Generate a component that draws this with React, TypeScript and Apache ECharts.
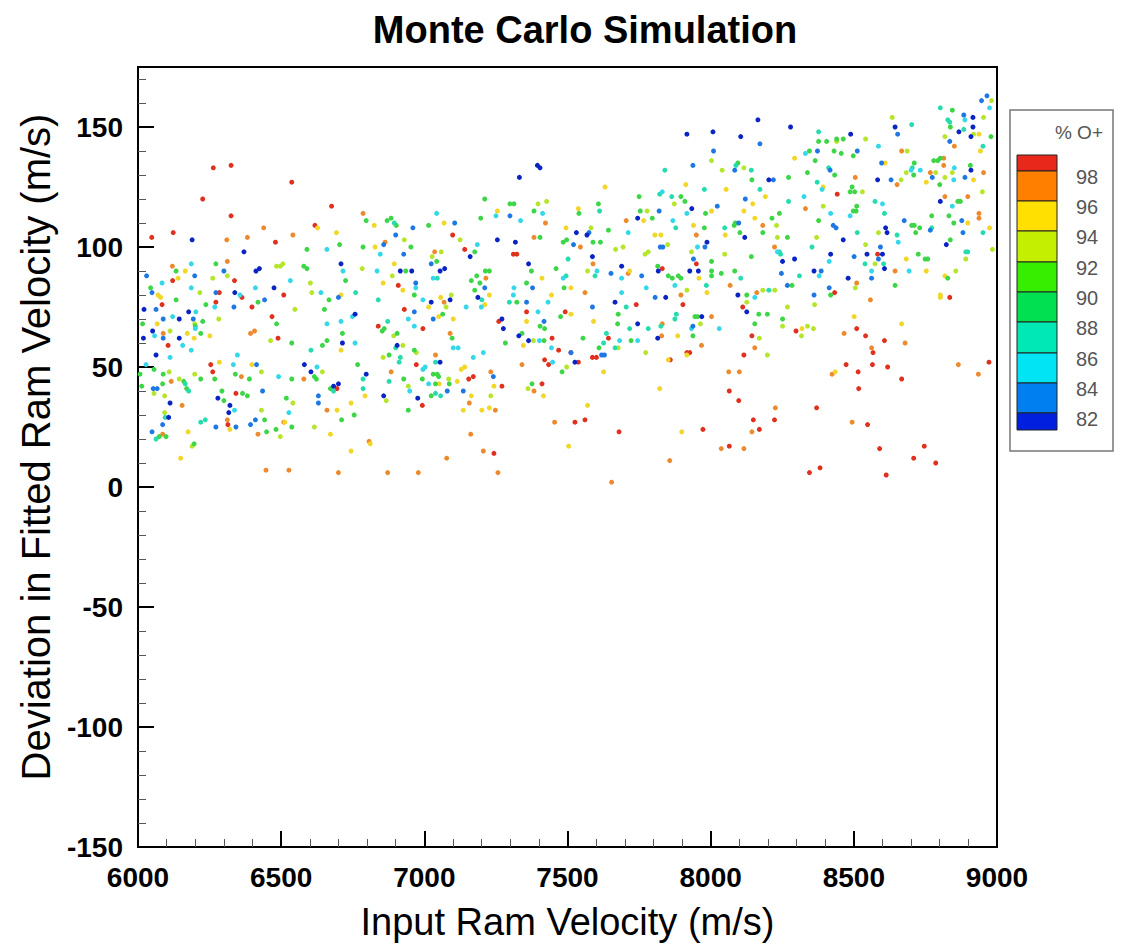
import React, { useEffect, useRef } from "react";
import * as echarts from "echarts";

// ---- Data: [Input Ram Velocity (m/s), Deviation in Fitted Ram Velocity (m/s)] grouped by % O+ band ----
const bandLabels = ["98", "96", "94", "92", "90", "88", "86", "84", "82"];
const bandPercent = [99, 97, 95, 93, 91, 87, 85, 83, 81];

const redPoints = [
  [6263,133],[6325,134],[6226,120],[6325,113],[6048,104],[6123,106],[6480,102],[6121,86],[6337,86],[6284,81],[6363,79],[6398,75],[6084,76],[6272,77],[6468,71],[6489,62],[6105,59],[6254,51],[6261,48],[6342,39],[6314,26],
  [6537,127],[6676,117],[6618,109],[6909,84],[6509,80],[6930,74],[6839,67],[6995,66],[6972,51],[6695,41],[6993,34],
  [7099,105],[7141,99],[7311,97],[7323,97],[7357,73],[7492,73],[7260,69],[7446,62],[7469,57],[7420,53],[7434,51],[7155,45],[7171,46],[7271,42],[7411,43],[7243,14],
  [7950,93],[7831,91],[7740,76],[7903,76],[7643,62],[7917,56],[7927,56],[7512,56],[7587,54],[7601,54],[7538,52],[7859,53],[7526,27],[7561,28],[7680,23],[7973,24],
  [8442,122],[8433,81],[8112,75],[8144,63],[8298,65],[8510,66],[8116,55],[8473,51],[8515,48],[8517,41],[8065,40],[8098,36],[8370,33],[8223,28],[8149,28],[8170,24],[8065,17],[8345,6],[8382,8],
  [8583,97],[8835,79],[8541,63],[8607,61],[8567,56],[8565,51],[8618,50],[8667,45],[8972,52],[8548,26],[8590,16],[8746,17],[8709,12],[8786,10],[8613,5]
];

const orangePoints = [
  [6310,103],[6382,104],[6439,108],[6120,92],[6312,94],[6088,64],[6393,64],[6407,65],[6116,44],[6361,46],[6154,34],[6312,28],[6086,22],[6419,22],[6447,7],
  [6786,114],[6541,105],[6863,102],[6579,45],[6884,48],[6660,32],[6509,27],[6807,19],[6527,7],[6700,6],[6872,6],[6979,6],
  [7423,110],[7383,104],[7036,98],[7215,87],[7069,77],[7090,64],[7039,55],[7341,51],[7232,48],[7383,40],[7157,35],[7248,32],[7162,22],[7455,27],[7206,15],[7078,12],[7257,6],
  [7705,111],[7950,105],[7545,100],[7589,93],[7712,89],[7561,81],[7896,80],[8003,71],[7831,68],[7829,63],[7968,59],[7857,11],[7654,2],
  [8505,129],[8331,116],[8182,109],[8223,100],[8068,84],[8161,81],[8510,85],[8466,64],[8154,58],[8063,48],[8100,48],[8424,47],[8226,33],[8144,23],[8494,27],[8037,16],[8116,16],
  [8851,142],[8667,140],[8814,137],[8814,134],[8767,131],[8953,131],[8651,126],[8818,121],[8898,121],[8937,114],[8937,112],[8644,90],[8558,78],[8679,60],[8562,58],[8865,51],[8935,47]
];

const yellowPoints = [
  [6165,90],[6140,87],[6070,80],[6079,79],[6067,68],[6172,64],[6196,62],[6251,63],[6284,52],[6398,51],[6175,23],[6321,24],[6149,12],
  [6825,109],[6627,108],[6693,106],[6828,100],[6895,93],[6856,85],[6925,82],[6709,80],[6709,57],[6793,38],[6744,35],[6695,32],[6513,27],[6672,22],[6811,18],[6744,15],
  [7255,115],[7069,110],[7495,108],[7411,87],[7227,80],[7211,76],[7057,79],[7015,75],[7444,80],[7050,71],[7101,70],[7357,69],[7346,59],[7129,49],[7141,50],[7243,42],[7052,43],[7115,44],[7164,38],[7416,38],[7136,32],[7201,32],[7227,33],[7504,17],
  [7631,125],[7913,126],[8003,115],[7538,116],[7766,111],[7940,109],[7805,105],[7826,105],[7717,90],[7959,87],[7512,83],[7987,81],[7512,72],[7591,69],[7885,63],[7917,55],[7852,53],[7626,48],[7822,41],[7570,34],[7899,23],
  [8293,137],[8393,125],[8054,124],[8191,121],[8147,118],[8116,115],[8154,112],[8051,105],[8319,66],[8501,71],[8435,48],
  [8609,135],[8753,127],[8918,128],[8898,110],[8974,108],[8683,95],[8753,90],[8818,88],[8802,80],[8802,79],[8667,68],[8942,140],[8937,147]
];

const yellowGreenPoints = [
  [6312,88],[6261,87],[6484,92],[6216,81],[6198,68],[6282,70],[6112,65],[6463,61],[6431,48],[6109,48],[6144,45],[6198,47],[6056,39],[6093,38],[6093,31],[6431,32],[6189,17],
  [6930,103],[6506,93],[6497,92],[6783,91],[6888,88],[6602,85],[6607,81],[6548,74],[6893,63],[6925,59],[6972,56],[6856,54],[6644,48],[6944,42],[6867,36],[6541,35],[6616,25],[6497,21],
  [7397,118],[7427,119],[7125,103],[7059,98],[7027,96],[7076,75],[7094,80],[7381,61],[7497,50],[7085,45],[7232,38],[7362,41],
  [8003,136],[7873,118],[7778,115],[7582,108],[7850,101],[7933,98],[7668,99],[7694,100],[7771,97],[7782,98],[7570,90],[7917,82],[7964,68],[7677,58],[7773,56],
  [8440,144],[8040,132],[8116,133],[8393,117],[8230,109],[8233,104],[8370,104],[8049,97],[8182,82],[8224,82],[8505,83],[8126,77],[8268,75],[8363,76],[8251,67],[8170,62],[8338,67],[8359,66],[8317,63],[8198,55],
  [8981,161],[8634,154],[8953,154],[8918,147],[8818,146],[8541,145],[8686,140],[8683,131],[8786,131],[8818,129],[8844,131],[8665,128],[8949,123],[8530,123],[8586,106],[8891,95],[8984,99],[8541,101],[8574,93],[8856,90]
];

const greenPoints = [
  [6133,90],[6272,93],[6044,83],[6133,78],[6419,77],[6237,76],[6200,67],[6226,69],[6484,68],[6016,68],[6219,64],[6056,49],[6007,47],[6088,47],[6160,44],[6219,45],[6268,45],[6340,47],[6389,45],[6013,42],[6086,43],[6170,41],[6293,40],[6365,39],[6382,38],[6300,36],[6442,28],[6074,21],[6098,21],[6449,23],[6482,24],[6196,18],
  [6797,111],[6870,111],[6884,112],[6902,109],[6704,101],[6590,99],[6786,100],[6953,100],[6579,92],[6590,91],[6935,90],[6725,86],[6965,80],[6667,78],[6651,74],[6714,64],[6853,65],[6860,66],[6905,64],[6537,60],[6660,61],[6644,59],[6965,57],[6877,55],[6767,51],[6616,46],[6623,45],[6537,45],[6928,45],[6993,45],[6672,41],[6518,37],[6755,30],[6711,28],[6944,32],[6537,25],
  [7211,120],[7299,118],[7313,118],[7383,115],[7197,112],[7015,109],[7404,104],[7485,102],[7497,103],[7176,98],[7043,94],[7374,90],[7460,91],[7213,90],[7227,90],[7183,88],[7164,86],[7194,85],[7176,82],[7323,77],[7357,85],[7488,83],[7476,71],[7064,72],[7404,67],[7420,66],[7341,64],[7418,61],[7283,60],[7097,62],[7481,48],[7031,47],[7045,47],[7050,46],[7039,43],[7087,43],[7024,38],[7376,43],
  [7750,121],[7896,121],[7910,119],[7982,114],[7608,118],[7540,114],[7754,115],[7796,112],[7643,107],[7978,108],[7589,102],[7615,102],[8003,94],[7815,92],[8003,90],[8003,88],[7852,88],[7866,87],[7887,88],[7896,87],[7677,72],[7945,71],[7954,71],[7675,68],[7554,62],[7722,61],[7938,63],[7610,58],
  [8377,144],[8405,144],[8440,145],[8463,145],[8345,140],[8431,140],[8456,139],[8498,138],[8365,136],[8095,135],[8144,128],[8272,129],[8338,131],[8433,130],[8494,125],[8487,123],[8503,123],[8510,117],[8508,115],[8498,115],[8214,112],[8240,114],[8377,111],[8082,109],[8086,110],[8102,106],[8182,106],[8268,104],[8142,96],[8037,89],[8084,90],[8284,84],[8419,80],[8126,80],[8168,72],[8198,72],[8251,70],[8154,68],
  [8844,157],[8837,150],[8979,146],[8711,135],[8779,136],[8793,136],[8802,137],[8709,130],[8800,126],[8907,134],[8863,119],[8872,119],[8702,109],[8711,109],[8730,108],[8716,106],[8772,113],[8832,113],[8849,110],[8837,103],[8725,97],[8749,95],[8758,95],[8828,87],[8644,84]
];

const aquaPoints = [
  [6095,29],[6235,28],[6219,27],[6063,20],[6165,43],[6177,40],
  [6895,110],[6760,81],[6839,78],[6872,69],[6604,57],[6900,58],[6916,54],[6912,52],[6786,45],[6786,41],[6877,44],[6683,40],
  [7502,95],[7045,87],[7495,88],[7297,77],[7201,78],[7039,52],[7039,39],[7057,38],
  [7840,132],[7822,122],[7864,121],[7978,124],[7612,115],[7878,108],[7596,88],[7985,84],[7705,75],[7880,72],[7875,70],[7826,67],[7782,66],[7717,66],[7636,64],[7626,60],[7666,58],
  [8377,148],[8088,134],[8142,132],[8412,133],[8372,127],[8172,124],[8272,119],[8049,108],[8512,106],[8240,98],[8244,97],[8354,100],[8310,88],[8105,87],[8203,82],
  [8802,158],[8702,151],[8828,153],[8835,152],[8884,149],[8951,142],[8704,133],[8574,119],[8607,114],[8772,108],[8951,106],[8651,105],[8891,98],[8898,98],[8539,93],[8604,93]
];

const cyanPoints = [
  [6186,93],[6084,85],[6186,83],[6356,80],[6410,83],[6268,75],[6202,73],[6121,71],[6200,66],[6058,63],[6156,59],[6186,57],[6112,54],[6028,51],[6333,51],[6347,55],[6491,46],[6337,32],
  [6660,99],[6846,97],[6716,90],[6835,90],[6532,86],[6970,83],[6639,81],[6995,78],[6749,71],[6944,70],[6660,68],[6709,69],[6965,67],[6758,60],[6625,50],[6995,49],[6949,40],[6527,31],
  [7250,113],[7336,111],[7413,114],[7043,114],[7185,101],[7031,87],[7199,75],[7146,75],[7313,83],[7311,80],[7485,87],[7432,77],[7397,73],[7101,58],[7118,58],[7003,50],[7171,54],[7206,56],[7448,52],[7402,61],[7444,58],[7015,43],
  [7831,123],[7917,114],[7712,106],[7868,111],[7954,100],[7603,90],[7689,87],[7875,84],[7775,83],[7689,81],[7933,66],[7682,61],[7745,61],
  [8331,139],[8389,124],[8326,121],[8487,113],[8419,114],[8233,98],[8414,94],[8379,88],[8154,79],[8030,66],
  [8974,158],[8888,153],[8586,142],[8700,132],[8732,132],[8851,133],[8849,128],[8600,118],[8844,117],[8655,102],[8562,90],[8693,90]
];

const bluePoints = [
  [6030,88],[6198,88],[6300,90],[6049,81],[6272,81],[6442,78],[6063,74],[6335,75],[6088,70],[6193,70],[6088,62],[6414,51],[6053,41],[6067,41],[6435,40],[6086,26],[6049,23],[6342,25],[6272,25],[6393,26],[6410,28],
  [6900,105],[6960,108],[6858,101],[6928,97],[6970,85],[6700,79],[6965,73],[6630,38],[6630,35],
  [7106,110],[7299,113],[7024,93],[7211,83],[7378,83],[7357,77],[7031,70],[7418,69],[7241,46],[7080,40],[7136,40],
  [8010,140],[7938,134],[7820,115],[7575,106],[7521,101],[7824,100],[7833,100],[7980,100],[7940,95],[7652,89],[7759,88],[7806,79],[7587,75],[7938,67],[7512,56],[7619,55],[7629,55],
  [8172,143],[8373,140],[8512,140],[8084,132],[8219,128],[8417,132],[8121,120],[8023,117],[8428,109],[8438,108],[8098,110],[8501,96],[8247,89],[8386,90],[8268,84],[8361,80],[8414,83],
  [8965,163],[8946,161],[8653,147],[8884,155],[8835,144],[8597,135],[8774,129],[8888,129],[8630,128],[8676,111],[8767,107],[8877,111],[8881,106],[8593,100],[8586,95],[8562,87]
];

const navyPoints = [
  [6189,103],[6370,98],[6412,90],[6424,91],[6338,81],[6475,83],[6021,74],[6177,73],[6144,70],[6051,65],[6144,62],[6019,62],[6063,55],[6112,35],[6279,37],[6321,34],[6317,31],[6107,29],
  [6709,93],[6916,90],[6956,90],[6758,72],[6714,60],[6905,59],[6581,51],[6604,48],[6797,47],[6683,42],[6700,43],[6858,38],[6977,37],
  [7395,134],[7404,133],[7332,129],[7255,103],[7318,102],[7160,96],[7364,93],[7055,90],[7071,91],[7187,79],[7024,77],[7090,78],[7271,70],[7276,66],[7330,63],[7364,61],[7055,52],
  [7917,147],[8008,148],[7934,116],[7745,112],[7531,106],[7568,105],[7987,102],[7587,96],[7817,90],[7927,90],[7957,90],[7689,92],[7843,79],[7666,77],[7969,71],[7745,68],[7815,62],[7526,52],
  [8165,153],[8279,150],[8105,146],[8489,147],[8203,128],[8119,104],[8463,103],[8251,94],[8293,95],[8419,97],[8361,90],[8480,87],[8095,80],[8126,73],
  [8644,150],[8916,154],[8916,150],[8867,148],[8909,146],[8909,132],[8583,128],[8802,119],[8611,108],[8616,106],[8823,101],[8546,97],[8600,97],[8607,91]
];

const bandPoints = [redPoints, orangePoints, yellowPoints, yellowGreenPoints, greenPoints, aquaPoints, cyanPoints, bluePoints, navyPoints];

// legend swatch colours, top (>98) to bottom (<82)
const legendColors = ["#e8281a", "#ff8000", "#ffe000", "#c4f000", "#38ee00", "#00e050", "#00e8b4", "#00e4f4", "#0080f0", "#0020e0"];

const FONT = "'Liberation Sans', Arial, Helvetica, sans-serif";

export default function App() {
  const ref = useRef<HTMLDivElement>(null);

  useEffect(() => {
    document.body.style.margin = "0";
    const chart = echarts.init(ref.current!, null, { renderer: "svg" });

    const data: number[][] = [];
    bandPoints.forEach((pts, i) => {
      pts.forEach((p) => data.push([p[0], p[1], bandPercent[i]]));
    });

    // legend graphic
    const boundaries = [155, 171, 201, 231, 262, 292, 322, 353, 383, 413, 430];
    const swX = 1017;
    const swW = 40;
    const legendEls: any[] = [
      { type: "rect", shape: { x: 1010, y: 110, width: 103, height: 341 }, style: { fill: "#fff", stroke: "#777", lineWidth: 1.5 } },
      { type: "text", style: { x: 1103, y: 132, text: "% O+", fill: "#555", font: `19px ${FONT}`, align: "right", verticalAlign: "middle" } },
    ];
    legendColors.forEach((c, i) => {
      legendEls.push({
        type: "rect",
        shape: { x: swX, y: boundaries[i], width: swW, height: boundaries[i + 1] - boundaries[i] },
        style: { fill: c, stroke: "#222", lineWidth: 1 },
      });
    });
    bandLabels.forEach((t, i) => {
      legendEls.push({
        type: "text",
        style: { x: 1076, y: boundaries[i + 1] + 6, text: t, fill: "#555", font: `20px ${FONT}`, align: "left", verticalAlign: "middle" },
      });
    });

    chart.setOption({
      animation: false,
      backgroundColor: "#fff",
      title: {
        text: "Monte Carlo Simulation",
        left: 580,
        textAlign: "center",
        top: 6,
        textStyle: { fontFamily: FONT, fontSize: 38, fontWeight: "bold", color: "#000" },
      },
      grid: { left: 138, right: 128, top: 67, bottom: 95, show: true, borderColor: "#000", borderWidth: 2, backgroundColor: "transparent" },
      visualMap: {
        type: "piecewise",
        show: false,
        dimension: 2,
        seriesIndex: 0,
        pieces: [
          { gt: 98, color: "#e0301e" },
          { gt: 96, lte: 98, color: "#ee8a2e" },
          { gt: 94, lte: 96, color: "#f2d628" },
          { gt: 92, lte: 94, color: "#b6e62c" },
          { gt: 88, lte: 92, color: "#3cd646" },
          { gt: 86, lte: 88, color: "#26dcae" },
          { gt: 84, lte: 86, color: "#34d8ea" },
          { gt: 82, lte: 84, color: "#1e78e4" },
          { lte: 82, color: "#0a24c4" },
        ],
      },
      xAxis: {
        type: "value",
        min: 6000,
        max: 9000,
        interval: 500,
        name: "Input Ram Velocity (m/s)",
        nameLocation: "middle",
        nameGap: 56,
        nameTextStyle: { fontFamily: FONT, fontSize: 38, color: "#000" },
        axisLine: { show: true, onZero: false, lineStyle: { color: "#000", width: 2 } },
        axisTick: { show: true, inside: true, length: 16, lineStyle: { color: "#000", width: 2 } },
        minorTick: { show: true, splitNumber: 5, length: 8, lineStyle: { color: "#555", width: 1 } },
        splitLine: { show: false },
        minorSplitLine: { show: false },
        axisLabel: { fontFamily: FONT, fontSize: 28, fontWeight: "bold", color: "#000", margin: 16, formatter: (v: number) => String(v) },
      },
      yAxis: {
        type: "value",
        min: -150,
        max: 175,
        interval: 50,
        name: "Deviation in Fitted Ram Velocity (m/s)",
        nameLocation: "middle",
        nameGap: 82,
        nameTextStyle: { fontFamily: FONT, fontSize: 40, color: "#000", padding: [0, 0, 0, 20] },
        axisLine: { show: true, onZero: false, lineStyle: { color: "#000", width: 2 } },
        axisTick: { show: true, inside: true, length: 16, lineStyle: { color: "#000", width: 2 } },
        minorTick: { show: true, splitNumber: 5, length: 8, lineStyle: { color: "#555", width: 1 } },
        splitLine: { show: false },
        minorSplitLine: { show: false },
        axisLabel: { fontFamily: FONT, fontSize: 28, fontWeight: "bold", color: "#000", margin: 15, showMaxLabel: false, formatter: (v: number) => String(v) },
      },
      series: [
        {
          type: "scatter",
          data,
          symbol: "circle",
          symbolSize: 5,
          itemStyle: { opacity: 1 },
          silent: true,
        },
      ],
      graphic: legendEls,
    });

    return () => chart.dispose();
  }, []);

  return <div ref={ref} style={{ position: "absolute", left: 0, top: 0, width: 1125, height: 946 }} />;
}
